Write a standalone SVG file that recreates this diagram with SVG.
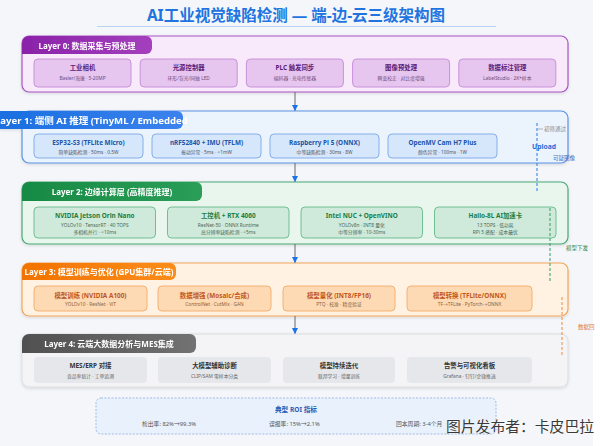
<svg xmlns="http://www.w3.org/2000/svg" width="600" height="446" viewBox="0 0 600 446">
<style>
text{font-family:"Noto Sans","Noto Sans CJK SC",sans-serif}
.hd{font-size:8px;font-weight:700;fill:#fff;text-anchor:middle}
.nt{font-size:6.4px;font-weight:700;text-anchor:middle}
.ns{font-size:4.8px;text-anchor:middle}
.lay{filter:url(#sh)}
.l0 .box{fill:#f8eafb;stroke:#a555c4;stroke-width:1.2}
.l0 .nd{fill:#e6c6ef;stroke:#c48ad8;stroke-width:0.9}
.l0 .nt{fill:#5b1b78}.l0 .ns{fill:#6e4a7c}
.l1 .box{fill:#ebf3fd;stroke:#5b92e3;stroke-width:1.2}
.l1 .nd{fill:#d7e7fb;stroke:#7ba7e8;stroke-width:0.9}
.l1 .nt{fill:#1a55a8}.l1 .ns{fill:#4a5568}
.l2 .box{fill:#e9f6ee;stroke:#4aa874;stroke-width:1.2}
.l2 .nd{fill:#cfeada;stroke:#67b98a;stroke-width:0.9}
.l2 .nt{fill:#1b7d44}.l2 .ns{fill:#4a6656}
.l3 .box{fill:#fff2e2;stroke:#f2a55a;stroke-width:1.2}
.l3 .nd{fill:#fddab3;stroke:#f2ac6c;stroke-width:0.9}
.l3 .nt{fill:#c2561a}.l3 .ns{fill:#8a6040}
.l4 .box{fill:#f4f4f6;stroke:#dcdcdf;stroke-width:1}
.l4 .nd{fill:#e6e7ea;stroke:none}
.l4 .nt{fill:#333}.l4 .ns{fill:#666}
.ar{stroke:#666;stroke-width:1;fill:none;marker-end:url(#ah)}
.dl{stroke-width:1;fill:none;stroke-dasharray:3 2}
.sl{font-size:5.5px}
</style>
<defs>
<filter id="sh" x="-5%" y="-20%" width="110%" height="150%"><feDropShadow dx="0" dy="1.2" stdDeviation="1.5" flood-color="#000" flood-opacity="0.13"/></filter>
<marker id="ah" viewBox="0 0 10 10" refX="9" refY="5" markerWidth="6" markerHeight="6" orient="auto"><path d="M0,0 L10,5 L0,10 z" fill="#1a73e8"/></marker>
<linearGradient id="g0" x1="0" x2="1"><stop offset="0" stop-color="#8a22a8"/><stop offset="1" stop-color="#a43fbd"/></linearGradient>
<linearGradient id="g1" x1="0" x2="1"><stop offset="0" stop-color="#1a6fe0"/><stop offset="1" stop-color="#3b82ee"/></linearGradient>
<linearGradient id="g2" x1="0" x2="1"><stop offset="0" stop-color="#178a45"/><stop offset="1" stop-color="#2a9e58"/></linearGradient>
<linearGradient id="g3" x1="0" x2="1"><stop offset="0" stop-color="#f27300"/><stop offset="1" stop-color="#fb8c1a"/></linearGradient>
<linearGradient id="g4" x1="0" x2="1"><stop offset="0" stop-color="#505050"/><stop offset="1" stop-color="#727272"/></linearGradient>
<clipPath id="c1"><rect x="0" y="105" width="188" height="30"/></clipPath>
</defs>
<rect width="600" height="446" fill="#f4f6f9"/>
<rect x="593" y="0" width="7" height="446" fill="#ffffff"/>

<g id="title">
<text x="296" y="21" text-anchor="middle" font-size="15.5" font-weight="700" fill="#1f74e0">AI工业视觉缺陷检测 — 端-边-云三级架构图</text>
<line x1="97" y1="26.5" x2="496" y2="26.5" stroke="#b9d3f5" stroke-width="1"/>
</g>

<g id="layer0" class="lay l0">
<rect class="box" x="22" y="36" width="546" height="56" rx="7"/>
<path d="M22,54 V43 A7,7 0 0 1 29,36 H146 A6,6 0 0 1 152,42 V48 A6,6 0 0 1 146,54 Z" fill="url(#g0)"/>
<text class="hd" x="87" y="48.5">Layer 0: 数据采集与预处理</text>
</g>
<g id="n0a" class="l0"><rect class="nd" x="34" y="59" width="97" height="28" rx="4"/><text class="nt" x="82.5" y="69.5">工业相机</text><text class="ns" x="82.5" y="80">Basler/海康 · 5-20MP</text></g>
<g id="n0b" class="l0"><rect class="nd" x="140.2" y="59" width="97" height="28" rx="4"/><text class="nt" x="188.7" y="69.5">光源控制器</text><text class="ns" x="188.7" y="80">环形/背光/同轴 LED</text></g>
<g id="n0c" class="l0"><rect class="nd" x="246.4" y="59" width="97" height="28" rx="4"/><text class="nt" x="294.9" y="69.5">PLC 触发同步</text><text class="ns" x="294.9" y="80">编码器 · 光电传感器</text></g>
<g id="n0d" class="l0"><rect class="nd" x="352.6" y="59" width="97" height="28" rx="4"/><text class="nt" x="401.1" y="69.5">图像预处理</text><text class="ns" x="401.1" y="80">畸变校正 · 对比度增强</text></g>
<g id="n0e" class="l0"><rect class="nd" x="458.8" y="59" width="97" height="28" rx="4"/><text class="nt" x="507.3" y="69.5">数据标注管理</text><text class="ns" x="507.3" y="80">LabelStudio · 2K+样本</text></g>

<g id="layer1" class="lay l1">
<rect class="box" x="22" y="111" width="546" height="52" rx="7"/>
<path d="M0,129 V111 H177 A6,6 0 0 1 183,117 V123 A6,6 0 0 1 177,129 Z" fill="url(#g1)"/>
<text class="hd" x="-5" y="123.8" style="text-anchor:start;font-size:8.6px" textLength="196" lengthAdjust="spacingAndGlyphs" clip-path="url(#c1)">Layer 1: 端侧 AI 推理 (TinyML / Embedded)</text>
</g>
<g id="n1a" class="l1"><rect class="nd" x="34" y="134" width="109" height="24" rx="4"/><text class="nt" x="88.5" y="145">ESP32-S3 (TFLite Micro)</text><text class="ns" x="88.5" y="153.5">简单缺陷检测 · 50ms · 0.5W</text></g>
<g id="n1b" class="l1"><rect class="nd" x="152" y="134" width="109" height="24" rx="4"/><text class="nt" x="206.5" y="145">nRF52840 + IMU (TFLM)</text><text class="ns" x="206.5" y="153.5">振动异常 · 5ms · &lt;1mW</text></g>
<g id="n1c" class="l1"><rect class="nd" x="270" y="134" width="109" height="24" rx="4"/><text class="nt" x="324.5" y="145">Raspberry Pi 5 (ONNX)</text><text class="ns" x="324.5" y="153.5">中等缺陷检测 · 30ms · 8W</text></g>
<g id="n1d" class="l1"><rect class="nd" x="388" y="134" width="109" height="24" rx="4"/><text class="nt" x="442.5" y="145">OpenMV Cam H7 Plus</text><text class="ns" x="442.5" y="153.5">颜色异常 · 100ms · 1W</text></g>

<g id="layer2" class="lay l2">
<rect class="box" x="22" y="182" width="546" height="62" rx="7"/>
<path d="M22,201 V189 A7,7 0 0 1 29,182 H196 A6,6 0 0 1 202,188 V195 A6,6 0 0 1 196,201 Z" fill="url(#g2)"/>
<text class="hd" x="112" y="195">Layer 2: 边缘计算层 (高精度推理)</text>
</g>
<g id="n2a" class="l2"><rect class="nd" x="34" y="207" width="121.5" height="31" rx="4"/><text class="nt" x="94.8" y="217.7">NVIDIA Jetson Orin Nano</text><text class="ns" x="94.8" y="227.3">YOLOv10 · TensorRT · 40 TOPS</text><text class="ns" x="94.8" y="234.3">多相机并行 · &lt;10ms</text></g>
<g id="n2b" class="l2"><rect class="nd" x="167.5" y="207" width="121.5" height="31" rx="4"/><text class="nt" x="228.3" y="217.7">工控机 + RTX 4060</text><text class="ns" x="228.3" y="227.3">ResNet-50 · ONNX Runtime</text><text class="ns" x="228.3" y="234.3">高分辨率缺陷检测 · &lt;5ms</text></g>
<g id="n2c" class="l2"><rect class="nd" x="301" y="207" width="121.5" height="31" rx="4"/><text class="nt" x="361.8" y="217.7">Intel NUC + OpenVINO</text><text class="ns" x="361.8" y="227.3">YOLOv8n · INT8 量化</text><text class="ns" x="361.8" y="234.3">中等分辨率 · 10-30ms</text></g>
<g id="n2d" class="l2"><rect class="nd" x="434.5" y="207" width="121.5" height="31" rx="4"/><text class="nt" x="495.3" y="217.7">Hailo-8L AI加速卡</text><text class="ns" x="495.3" y="227.3">13 TOPS · 低功耗</text><text class="ns" x="495.3" y="234.3">RPi 5 搭配 · 成本最优</text></g>

<g id="layer3" class="lay l3">
<rect class="box" x="22" y="263" width="546" height="53" rx="7"/>
<path d="M22,280 V270 A7,7 0 0 1 29,263 H170 A6,6 0 0 1 176,269 V274 A6,6 0 0 1 170,280 Z" fill="url(#g3)"/>
<text class="hd" x="99" y="275">Layer 3: 模型训练与优化 (GPU集群/云端)</text>
</g>
<g id="n3a" class="l3"><rect class="nd" x="34" y="286" width="113" height="25" rx="4"/><text class="nt" x="90.5" y="297.7">模型训练 (NVIDIA A100)</text><text class="ns" x="90.5" y="305.7">YOLOv10 · ResNet · ViT</text></g>
<g id="n3b" class="l3"><rect class="nd" x="158" y="286" width="113" height="25" rx="4"/><text class="nt" x="214.5" y="297.7">数据增强 (Mosaic/合成)</text><text class="ns" x="214.5" y="305.7">ControlNet · CutMix · GAN</text></g>
<g id="n3c" class="l3"><rect class="nd" x="283" y="286" width="112" height="25" rx="4"/><text class="nt" x="339" y="297.7">模型量化 (INT8/FP16)</text><text class="ns" x="339" y="305.7">PTQ · 校准 · 精度验证</text></g>
<g id="n3d" class="l3"><rect class="nd" x="407" y="286" width="125" height="25" rx="4"/><text class="nt" x="469.5" y="297.7">模型转换 (TFLite/ONNX)</text><text class="ns" x="469.5" y="305.7">TF→TFLite · PyTorch→ONNX</text></g>

<g id="layer4" class="lay l4">
<rect class="box" x="22" y="334" width="546" height="53" rx="7"/>
<path d="M22,353 V341 A7,7 0 0 1 29,334 H190 A6,6 0 0 1 196,340 V347 A6,6 0 0 1 190,353 Z" fill="url(#g4)"/>
<text class="hd" x="109" y="346.5">Layer 4: 云端大数据分析与MES集成</text>
</g>
<g id="n4a" class="l4"><rect class="nd" x="34" y="357" width="113" height="26" rx="4"/><text class="nt" x="90.5" y="368.3">MES/ERP 对接</text><text class="ns" x="90.5" y="377.7">良品率统计 · 工单追溯</text></g>
<g id="n4b" class="l4"><rect class="nd" x="158" y="357" width="113" height="26" rx="4"/><text class="nt" x="214.5" y="368.3">大模型辅助诊断</text><text class="ns" x="214.5" y="377.7">CLIP/SAM 零样本分类</text></g>
<g id="n4c" class="l4"><rect class="nd" x="283" y="357" width="112" height="26" rx="4"/><text class="nt" x="339" y="368.3">模型持续迭代</text><text class="ns" x="339" y="377.7">联邦学习 · 增量训练</text></g>
<g id="n4d" class="l4"><rect class="nd" x="407" y="357" width="125" height="26" rx="4"/><text class="nt" x="469.5" y="368.3">告警与可视化看板</text><text class="ns" x="469.5" y="377.7">Grafana · 钉钉/企微推送</text></g>

<g id="connectors">
<line class="ar" x1="295" y1="92" x2="295" y2="110.5"/>
<line class="ar" x1="295" y1="163" x2="295" y2="181.5"/>
<line class="ar" x1="295" y1="244" x2="295" y2="262.5"/>
<line class="ar" x1="295" y1="316" x2="295" y2="333.5"/>
<line class="dl" x1="537" y1="123" x2="537" y2="193" stroke="#2a78e4"/>
<line x1="538" y1="129" x2="543" y2="129" stroke="#999" stroke-width="0.7"/>
<line class="dl" x1="550" y1="208" x2="550" y2="283" stroke="#2f9e5f"/>
<line class="dl" x1="562" y1="297" x2="562" y2="357" stroke="#ee8a3a"/>
<text class="sl" x="544" y="131" fill="#888">初筛通过</text>
<text x="532" y="148.5" font-size="6.8" font-weight="700" fill="#1f6fd8">Upload</text>
<text class="sl" x="553" y="160" fill="#3a78c8">可疑图像</text>
<text class="sl" x="566" y="250" fill="#2a8a52">模型下发</text>
<text class="sl" x="578" y="329" fill="#e07a2a">数据回</text>
</g>

<g id="roi">
<rect x="96" y="398" width="400" height="36" rx="5" fill="#e9f1fc" stroke="#92b6e6" stroke-width="0.9" stroke-dasharray="2 1.5"/>
<text x="296" y="412" text-anchor="middle" font-size="6.6" font-weight="700" fill="#1f5fb8">典型 ROI 指标</text>
<text x="142" y="426" font-size="5.8" fill="#555">检出率: 82%→99.3%</text>
<text x="269" y="426" font-size="5.8" fill="#555">误报率: 15%→2.1%</text>
<text x="396" y="426" font-size="5.8" fill="#555">回本周期: 3-4个月</text>
</g>

<text x="446" y="432" font-size="14.8" fill="#3a3a3a" stroke="#ffffff" stroke-width="0.6" paint-order="stroke" style="font-family:'Noto Sans CJK SC',sans-serif">图片发布者：卡皮巴拉</text>
</svg>
